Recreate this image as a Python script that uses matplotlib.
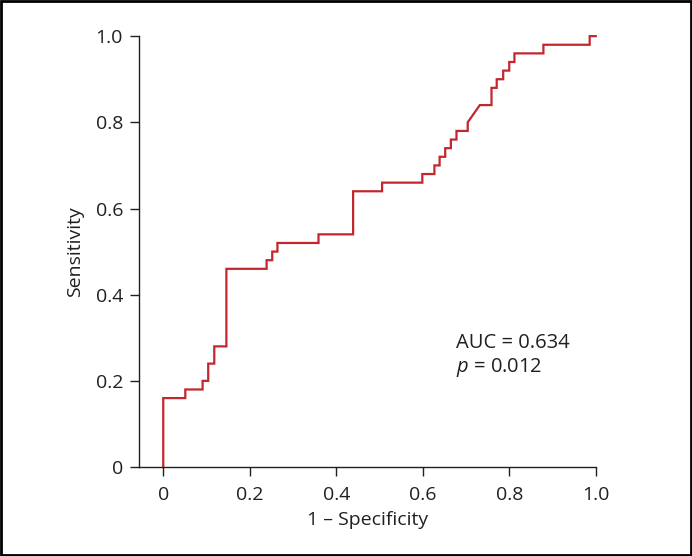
#ROC curve: sensitivity vs 1 - specificity
import matplotlib
matplotlib.use("Agg")
import matplotlib.pyplot as plt
from matplotlib.patches import Rectangle

# ROC curve vertices
fpr = [0, 0, 0.051, 0.051, 0.091, 0.091, 0.104, 0.104, 0.118, 0.118, 0.146, 0.146,
       0.239, 0.239, 0.252, 0.252, 0.264, 0.264, 0.359, 0.359, 0.439, 0.439, 0.506, 0.506,
       0.599, 0.599, 0.627, 0.627, 0.639, 0.639, 0.652, 0.652, 0.665, 0.665, 0.678, 0.678,
       0.704, 0.704, 0.732, 0.759, 0.759, 0.771, 0.771, 0.786, 0.786, 0.800, 0.800,
       0.812, 0.812, 0.879, 0.879, 0.986, 0.986, 1.0]
tpr = [0, 0.16, 0.16, 0.18, 0.18, 0.20, 0.20, 0.24, 0.24, 0.28, 0.28, 0.46,
       0.46, 0.48, 0.48, 0.50, 0.50, 0.52, 0.52, 0.54, 0.54, 0.64, 0.64, 0.66,
       0.66, 0.68, 0.68, 0.70, 0.70, 0.72, 0.72, 0.74, 0.74, 0.76, 0.76, 0.78,
       0.78, 0.80, 0.84, 0.84, 0.88, 0.88, 0.90, 0.90, 0.92, 0.92, 0.94,
       0.94, 0.96, 0.96, 0.98, 0.98, 1.0, 1.0]

ticks = [0, 0.2, 0.4, 0.6, 0.8, 1.0]
tick_labels = ["0", "0.2", "0.4", "0.6", "0.8", "1.0"]
auc_text = "AUC = 0.634"
p_text = r"$\mathit{p}$ = 0.012"

plt.rcParams['font.family'] = ['Open Sans', 'DejaVu Sans']
plt.rcParams['mathtext.fontset'] = 'custom'
plt.rcParams['mathtext.rm'] = 'Open Sans'
plt.rcParams['mathtext.it'] = 'Open Sans:italic'

text_color = '#231f20'
line_color = '#c1272d'

fig = plt.figure(figsize=(6.92, 5.56), dpi=100)
ax = fig.add_axes([0.2009, 0.160, 0.660, 0.775])

ax.plot(fpr, tpr, color=line_color, linewidth=1.6, clip_on=False, solid_joinstyle='miter')

ax.set_xlim(-0.056, 1.0)
ax.set_ylim(0, 1.0)
ax.set_xticks(ticks)
ax.set_xticklabels(tick_labels)
ax.set_yticks(ticks)
ax.set_yticklabels(tick_labels)
for s in ['top', 'right']:
    ax.spines[s].set_visible(False)
for s in ['left', 'bottom']:
    ax.spines[s].set_color(text_color)
    ax.spines[s].set_linewidth(1.0)
ax.tick_params(direction='out', length=6.5, width=1.0, color=text_color,
               labelsize=14, labelcolor=text_color)
ax.tick_params(axis='x', pad=7)
ax.tick_params(axis='y', pad=5)

ax.set_xlabel("1 – Specificity", fontsize=14, color=text_color, labelpad=5)
ax.set_ylabel("Sensitivity", fontsize=14, color=text_color, labelpad=8)

ax.text(0.678, 0.289, auc_text, fontsize=14.5, color=text_color, va='center', ha='left')
ax.text(0.678, 0.232, p_text, fontsize=14.5, color=text_color, va='center', ha='left')

# black frame around the figure
fig.patches.append(Rectangle((0.0015, 0.002), 0.997, 0.996, transform=fig.transFigure,
                             fill=False, edgecolor='black', linewidth=2, figure=fig))

fig.savefig("out.png", dpi=100)
